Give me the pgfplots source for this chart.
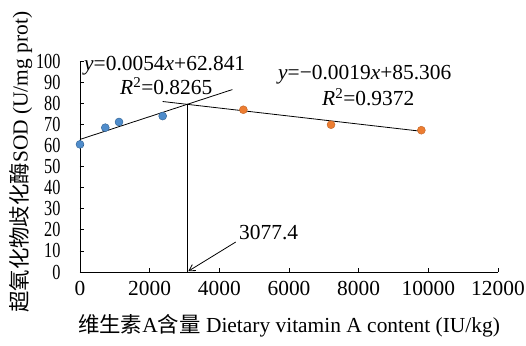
\documentclass[border=0pt]{standalone}
\usepackage{pgfplots}
\pgfplotsset{compat=1.18}
\usepackage{fontspec}
\setmainfont{Liberation Serif}
\newfontfamily\cjk{Noto Sans CJK SC}
\newfontfamily\sq[FakeStretch=0.76]{Liberation Serif}
\usetikzlibrary{arrows.meta}
\definecolor{ptblue}{HTML}{4F8CCB}
\definecolor{ptblueedge}{HTML}{2E5F8F}
\definecolor{ptorange}{HTML}{ED7D31}
\begin{document}
\begin{tikzpicture}[font=\fontsize{21.5}{25}\selectfont]
\begin{axis}[
  scale only axis,
  width=418bp, height=211bp,
  xmin=0, xmax=12000, ymin=0, ymax=100,
  xtick={0,2000,...,12000},
  ytick={0,10,...,100},
  axis x line*=bottom, axis y line*=left,
  axis line style={black, line width=0.8pt},
  tick style={black, line width=0.8pt},
  tick align=inside,
  major tick length=4bp,
  /pgf/number format/assume math mode=true,
  scaled x ticks=false,
  xticklabel style={font=\fontsize{21.5}{25}\selectfont, yshift=-6bp, /pgf/number format/.cd, set thousands separator={}},
  yticklabel style={font=\sq\fontsize{21.5}{25}\selectfont, xshift=-16bp},
  xlabel={{\cjk 维生素}A{\cjk 含量} Dietary vitamin A content (IU/kg)},
  xlabel style={at={(axis description cs:0.5,0)}, anchor=base, yshift=-60bp, font=\fontsize{21.5}{25}\selectfont},
  ylabel={{\cjk 超氧化物歧化酶}SOD (U/mg prot)},
  ylabel style={at={(axis description cs:-0.141,0.52)}, anchor=center, font=\fontsize{21.5}{25}\selectfont},
  clip=false,
]
% regression line 1
\addplot[black, line width=0.8pt] coordinates {(0,62.84) (4374,86.46)};
% regression line 2
\addplot[black, line width=0.8pt] coordinates {(2374,80.80) (9800,66.69)};
% vertical line at breakpoint
\addplot[black, line width=0.8pt] coordinates {(3077.4,0) (3077.4,79.46)};
% blue points
\addplot[only marks, mark=*, mark size=4bp, mark options={fill=ptblue, draw=ptblueedge, line width=0.4pt}] coordinates {
(0,60.5) (726,68.4) (1120,71.1) (2374,73.9)};
% orange points
\addplot[only marks, mark=*, mark size=4bp, mark options={fill=ptorange, draw=ptorange!80!black, line width=0.4pt}] coordinates {
(4690,76.9) (7207,69.8) (9800,67.2)};
\node[anchor=base west, inner sep=0] at (axis cs:115,95.7) {\textit{y}=0.0054\textit{x}+62.841};
\node[anchor=base west, inner sep=0] at (axis cs:1148,83.9) {\textit{R}\textsuperscript{2}=0.8265};
\node[anchor=base west, inner sep=0] at (axis cs:5685,91) {\textit{y}=−0.0019\textit{x}+85.306};
\node[anchor=base west, inner sep=0] at (axis cs:6948,78.7) {\textit{R}\textsuperscript{2}=0.9372};
\node[anchor=base west, inner sep=0] at (axis cs:4565,15.6) {3077.4};
\draw[-{Straight Barb[length=6bp,width=7bp]}, line width=0.8pt] (axis cs:4470,14.2) -- (axis cs:3110,0.4);
\end{axis}
\pgfresetboundingbox
\path ([shift={(-80bp,-74bp)}]current axis.south west) rectangle ([shift={(446bp,272bp)}]current axis.south west);
\end{tikzpicture}
\end{document}
